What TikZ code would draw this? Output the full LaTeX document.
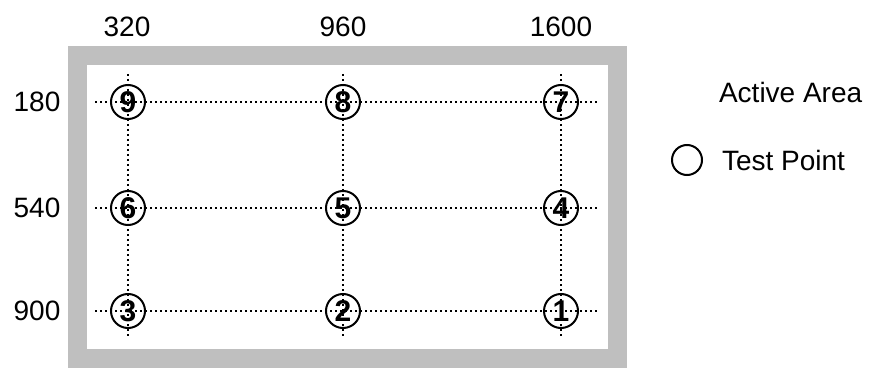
\documentclass[tikz,border=0pt]{standalone}
\usepackage{fontspec}
\setmainfont{Liberation Sans}
\begin{document}
\begin{tikzpicture}[x=0.5pt, y=-0.5pt,
		gridline/.style={line width=1pt, dash pattern=on 1pt off 1.5pt},
		testpoint/.style={draw, circle, line width=1pt, minimum size=17pt, inner sep=0pt, font=\fontsize{15}{15}\selectfont\bfseries},
		axislabel/.style={font=\fontsize{14}{14}\selectfont}]
		%%%%% START %%%%%
		\useasboundingbox (0, 0) rectangle (879, 374);
		
		\fill[black!25] (68, 46) rectangle (627, 368);
		\fill[white] (87, 65) rectangle (608, 349);
		
		\draw[gridline] (95, 102) -- (597, 102);
		\draw[gridline] (95, 208) -- (597, 208);
		\draw[gridline] (95, 311) -- (597, 311);
		\draw[gridline] (128, 74) -- (128, 339);
		\draw[gridline] (343, 74) -- (343, 339);
		\draw[gridline] (561, 74) -- (561, 339);
		
		\node[testpoint] (tp1) at (561, 311) {1};
		\node[testpoint] (tp2) at (343, 311) {2};
		\node[testpoint] (tp3) at (128, 311) {3};
		\node[testpoint] (tp4) at (561, 208) {4};
		\node[testpoint] (tp5) at (343, 208) {5};
		\node[testpoint] (tp6) at (128, 208) {6};
		\node[testpoint] (tp7) at (561, 102) {7};
		\node[testpoint] (tp8) at (343, 102) {8};
		\node[testpoint] (tp9) at (128, 102) {9};
		
		\node[axislabel] (col320) at (127, 27) {320};
		\node[axislabel] (col960) at (343, 27) {960};
		\node[axislabel] (col1600) at (561, 27) {1600};
		\node[axislabel] (row180) at (37, 102) {180};
		\node[axislabel] (row540) at (37, 208) {540};
		\node[axislabel] (row900) at (37, 311) {900};
		
		\node[axislabel, anchor=west] (activearea) at (712, 92) {Active Area};
		\node[draw, circle, line width=1pt, minimum size=15pt, inner sep=0pt] (legendpoint) at (687, 160) {};
		\node[axislabel, anchor=west] (testpointtext) at (715, 160) {Test Point};
		
		%%%%% END %%%%%
	\end{tikzpicture}
\end{document}
